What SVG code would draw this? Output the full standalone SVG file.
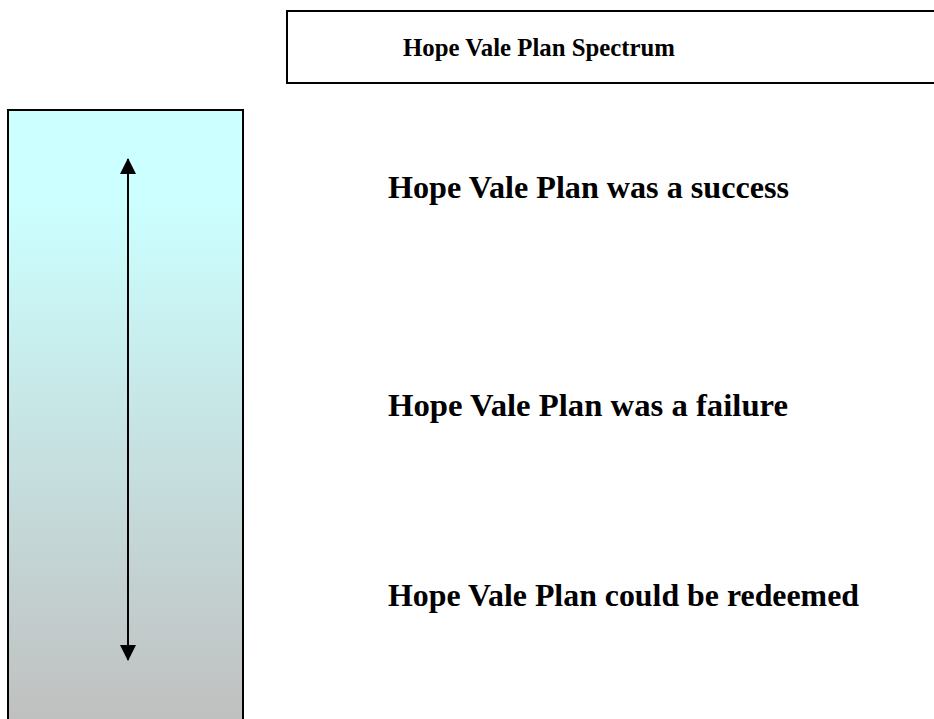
<svg xmlns="http://www.w3.org/2000/svg" width="934" height="719" viewBox="0 0 934 719">
  <style>
    .lbl { font-family: "Liberation Serif", "Times New Roman", serif; font-weight: bold; fill: #000; }
    .frame { stroke: #000; stroke-width: 2; }
  </style>
  <defs>
    <linearGradient id="band" x1="0" y1="110" x2="0" y2="719" gradientUnits="userSpaceOnUse">
      <stop offset="0" stop-color="#ccffff"/>
      <stop offset="0.15" stop-color="#ccffff"/>
      <stop offset="1" stop-color="#c0c0c0"/>
    </linearGradient>
    <marker id="head" viewBox="0 0 16 16" refX="15" refY="8" markerWidth="16" markerHeight="16" markerUnits="userSpaceOnUse" orient="auto-start-reverse">
      <path d="M0,0 L16,8 L0,16 Z" fill="#000"/>
    </marker>
  </defs>

  <g id="title">
    <rect class="frame" x="287" y="11" width="660" height="72" fill="#fff"/>
    <text class="lbl" x="403" y="56" font-size="26" textLength="272" lengthAdjust="spacingAndGlyphs">Hope Vale Plan Spectrum</text>
  </g>

  <g id="spectrum-bar">
    <rect class="frame" x="8" y="110" width="235" height="620" fill="url(#band)"/>
  </g>

  <g id="connectors">
    <line x1="128" y1="159" x2="128" y2="660" stroke="#000" stroke-width="2" marker-start="url(#head)" marker-end="url(#head)"/>
  </g>

  <g id="success">
    <text class="lbl" x="388" y="198" font-size="32" textLength="401" lengthAdjust="spacingAndGlyphs">Hope Vale Plan was a success</text>
  </g>
  <g id="failure">
    <text class="lbl" x="388" y="416" font-size="32" textLength="400" lengthAdjust="spacingAndGlyphs">Hope Vale Plan was a failure</text>
  </g>
  <g id="redeemed">
    <text class="lbl" x="388" y="606" font-size="32" textLength="471" lengthAdjust="spacingAndGlyphs">Hope Vale Plan could be redeemed</text>
  </g>
</svg>
